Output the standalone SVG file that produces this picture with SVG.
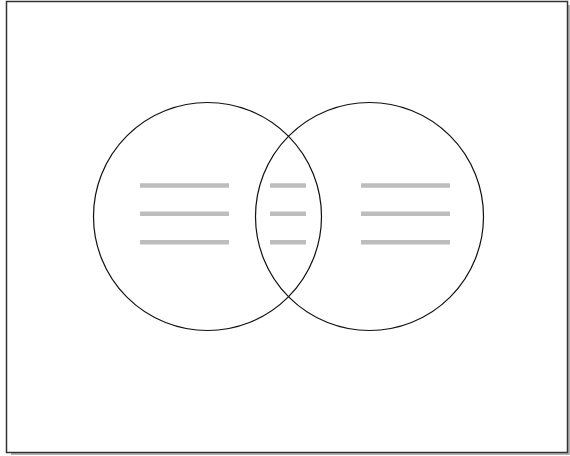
<svg xmlns="http://www.w3.org/2000/svg" width="570" height="456" viewBox="0 0 570 456">
<style>
.ring{fill:none;stroke:#111;stroke-width:1.2}
.bar{stroke:#bdbdbd;stroke-width:4.5}
</style>
<rect x="0" y="0" width="570" height="456" fill="#fff"/>
<rect x="11" y="5" width="561" height="450" fill="#b5b5b5"/>
<rect x="6.5" y="1.5" width="561" height="451" fill="#fff" stroke="#333" stroke-width="1.5"/>
<g id="setA">
<circle class="ring" cx="207.5" cy="216.5" r="114"/>
<line class="bar" x1="140" y1="185.5" x2="229" y2="185.5"/>
<line class="bar" x1="140" y1="213.8" x2="229" y2="213.8"/>
<line class="bar" x1="140" y1="242.3" x2="229" y2="242.3"/>
</g>
<g id="setB">
<circle class="ring" cx="369.5" cy="216.5" r="114"/>
<line class="bar" x1="361" y1="185.5" x2="450" y2="185.5"/>
<line class="bar" x1="361" y1="213.8" x2="450" y2="213.8"/>
<line class="bar" x1="361" y1="242.3" x2="450" y2="242.3"/>
</g>
<g id="overlap">
<line class="bar" x1="270" y1="185.5" x2="306" y2="185.5"/>
<line class="bar" x1="270" y1="213.8" x2="306" y2="213.8"/>
<line class="bar" x1="270" y1="242.3" x2="306" y2="242.3"/>
</g>
<g id="connectors"></g>
</svg>
